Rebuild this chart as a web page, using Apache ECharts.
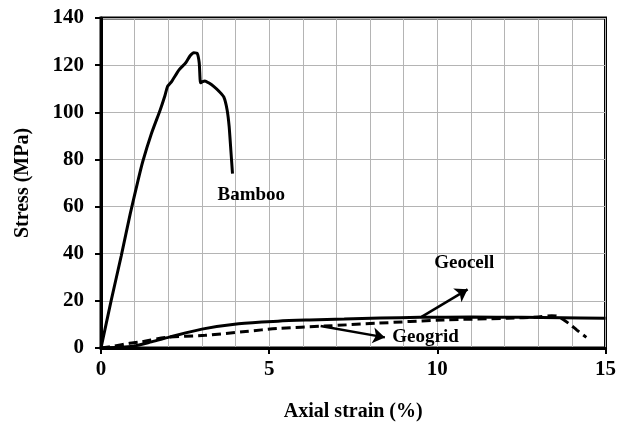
<!DOCTYPE html>
<html>
<head>
<meta charset="utf-8">
<script src="https://cdn.jsdelivr.net/npm/echarts@6/dist/echarts.min.js"></script>
<style>
  html, body { margin: 0; padding: 0; background: #fff; }
  #chart { width: 619px; height: 427px; }
</style>
</head>
<body>
<div id="chart"></div>
<script>
// strain (%) / stress (MPa)
var bambooStrain = [0, 0.3, 0.6, 0.87, 1.1, 1.24, 1.5, 1.76, 1.9, 1.98, 2.1, 2.32, 2.52, 2.65, 2.76, 2.86, 2.92, 2.96, 3.02, 3.09, 3.2, 3.35, 3.5, 3.65, 3.75, 3.81, 3.86, 3.91];
var bambooStress = [0, 20, 39, 57, 71, 79, 91, 101, 107, 111, 113, 118, 121, 124, 125.3, 125, 121, 112.5, 113, 113.3, 112.5, 111, 109, 106.5, 101, 94, 84, 74];

var geocellStrain = [0, 0.5, 0.95, 1.5, 2.03, 3.0, 4.09, 5.26, 6.2, 7.23, 8.3, 9.48, 11, 12.5, 13.7, 15];
var geocellStress = [0, 0.3, 0.8, 2.6, 4.6, 8.0, 10.3, 11.4, 11.9, 12.3, 12.7, 13.0, 13.1, 13.0, 12.8, 12.6];

var geogridStrain = [0, 0.4, 0.85, 1.2, 1.93, 3.1, 4.3, 5.26, 6.64, 8.2, 10.17, 12.1, 13.0, 13.4, 13.6, 13.9, 14.15, 14.43];
var geogridStress = [0, 0.8, 2.0, 2.6, 4.5, 5.4, 7.0, 8.3, 9.3, 10.5, 11.9, 12.6, 13.2, 13.7, 13.3, 10.5, 7.6, 4.5];

var xTicks = [0, 5, 10, 15];
var yTicks = [0, 20, 40, 60, 80, 100, 120, 140];

function pairs(xs, ys) {
  return xs.map(function (x, i) { return [x, ys[i]]; });
}

var font = "'Liberation Serif', 'Times New Roman', serif";
var chart = echarts.init(document.getElementById('chart'));

// text label placed at a data point (invisible dot)
function tag(text, x, y) {
  return {
    symbol: 'circle', symbolSize: 1,
    itemStyle: { color: 'rgba(0,0,0,0)' },
    label: { show: true, position: 'inside', formatter: text, fontFamily: font, fontWeight: 'bold', fontSize: 19, color: '#000' },
    data: [{ coord: [x, y] }]
  };
}

var option = {
  animation: false,
  backgroundColor: '#fff',
  grid: {
    left: 101, right: 8, top: 18, bottom: 79,
    show: true, borderColor: '#000', borderWidth: 3
  },
  xAxis: {
    type: 'value', min: 0, max: 15, interval: 5,
    name: 'Axial strain (%)', nameLocation: 'middle', nameGap: 54,
    nameTextStyle: { fontFamily: font, fontWeight: 'bold', fontSize: 20, color: '#000' },
    axisLine: { show: true, onZero: false, lineStyle: { color: '#000', width: 3 } },
    axisTick: { show: true, length: 6, lineStyle: { color: '#000', width: 2 } },
    axisLabel: { fontFamily: font, fontWeight: 'bold', fontSize: 21, color: '#000', margin: 11 },
    splitLine: { show: true, lineStyle: { color: '#b4b4b4', width: 1 } },
    minorTick: { show: false, splitNumber: 5 },
    minorSplitLine: { show: true, lineStyle: { color: '#b4b4b4', width: 1 } }
  },
  yAxis: {
    type: 'value', min: 0, max: 140, interval: 20,
    name: 'Stress (MPa)', nameLocation: 'middle', nameGap: 68,
    nameTextStyle: { fontFamily: font, fontWeight: 'bold', fontSize: 20, color: '#000' },
    axisLine: { show: true, lineStyle: { color: '#000', width: 3 } },
    axisTick: { show: true, length: 6, lineStyle: { color: '#000', width: 2 } },
    axisLabel: { fontFamily: font, fontWeight: 'bold', fontSize: 21, color: '#000', margin: 17 },
    splitLine: { show: true, lineStyle: { color: '#b4b4b4', width: 1 } }
  },
  series: [
    {
      name: 'Bamboo', type: 'line', data: pairs(bambooStrain, bambooStress),
      showSymbol: false, smooth: 0.2,
      lineStyle: { color: '#000', width: 3 },
      markPoint: tag('Bamboo', 4.47, 65)
    },
    {
      name: 'Geocell', type: 'line', data: pairs(geocellStrain, geocellStress),
      showSymbol: false, smooth: 0.3,
      lineStyle: { color: '#000', width: 3 },
      markPoint: tag('Geocell', 10.8, 36.2),
      markLine: {
        silent: true, symbol: ['none', 'arrow'], symbolSize: 12,
        label: { show: false },
        lineStyle: { color: '#000', width: 2.5, type: 'solid' },
        data: [[{ coord: [9.53, 13.2] }, { coord: [10.9, 24.9] }]]
      }
    },
    {
      name: 'Geogrid', type: 'line', data: pairs(geogridStrain, geogridStress),
      showSymbol: false, smooth: 0.3,
      lineStyle: { color: '#000', width: 3, type: [9, 5] },
      markPoint: tag('Geogrid', 9.65, 4.8),
      markLine: {
        silent: true, symbol: ['none', 'arrow'], symbolSize: 12,
        label: { show: false },
        lineStyle: { color: '#000', width: 2.5, type: 'solid' },
        data: [[{ coord: [6.53, 9.3] }, { coord: [8.44, 4.5] }]]
      }
    }
  ]
};

chart.setOption(option);
</script>
</body>
</html>
